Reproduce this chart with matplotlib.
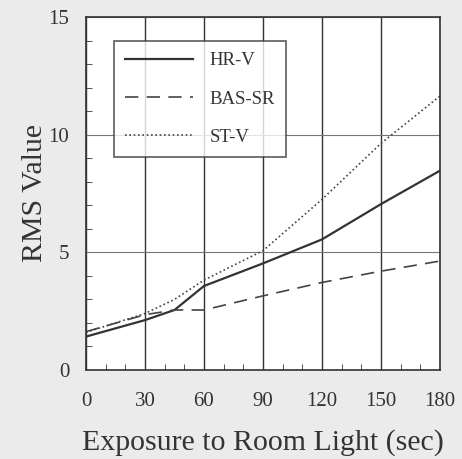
import matplotlib.pyplot as plt
from matplotlib.ticker import MultipleLocator

exposure = [0, 30, 45, 60, 90, 120, 150, 180]
hr_v = [1.42, 2.12, 2.55, 3.57, 4.53, 5.55, 7.05, 8.47]
bas_sr = [1.63, 2.35, 2.55, 2.55, 3.15, 3.72, 4.2, 4.63]
st_v = [1.6, 2.4, 3.0, 3.82, 5.07, 7.25, 9.63, 11.64]

plt.rcParams['font.family'] = ['Liberation Serif', 'DejaVu Serif']

fig = plt.figure(figsize=(4.62, 4.59), dpi=100, facecolor='#ebebeb')
ax = fig.add_axes([86/462, 1 - 370/459, 354/462, 353/459])

ax.plot(exposure, hr_v, color='#333333', lw=1.6, ls='-', label='HR-V')
ax.plot(exposure, bas_sr, color='#444444', lw=1.2, ls=(0, (8, 5)), label='BAS-SR')
ax.plot(exposure, st_v, color='#444444', lw=1.2, ls=(0, (1, 1.6)), label='ST-V')

ax.set_xlim(0, 180)
ax.set_ylim(0, 15)
ax.set_xticks([0, 30, 60, 90, 120, 150, 180])
ax.set_yticks([0, 5, 10, 15])
ax.xaxis.set_minor_locator(MultipleLocator(10))
ax.yaxis.set_minor_locator(MultipleLocator(1))
ax.tick_params(which='both', direction='in', labelsize=15, colors='#333333', length=4)
ax.tick_params(which='major', length=0)
ax.tick_params(axis='x', which='major', pad=16)
ax.tick_params(axis='y', which='major', pad=12)
ax.grid(axis='x', which='major', color='#333333', lw=1.0)
ax.grid(axis='y', which='major', color='#777777', lw=0.8)
for s in ax.spines.values():
    s.set_color('#333333')
    s.set_linewidth(1.2)

ax.set_xlabel('Exposure to Room Light (sec)', fontsize=21.5, color='#333333', labelpad=13)
ax.set_ylabel('RMS Value', fontsize=21.5, color='#333333', labelpad=0)

leg = ax.legend(loc='upper left', bbox_to_anchor=(0.079, 0.932), fontsize=13.5,
                frameon=True, fancybox=False, edgecolor='#333333',
                handlelength=3.6, handletextpad=0.9, labelspacing=1.12,
                borderpad=0.6, borderaxespad=0)
leg.get_frame().set_linewidth(1.2)
for t in leg.get_texts():
    t.set_color('#333333')

fig.savefig('out.png', dpi=100, facecolor=fig.get_facecolor())
